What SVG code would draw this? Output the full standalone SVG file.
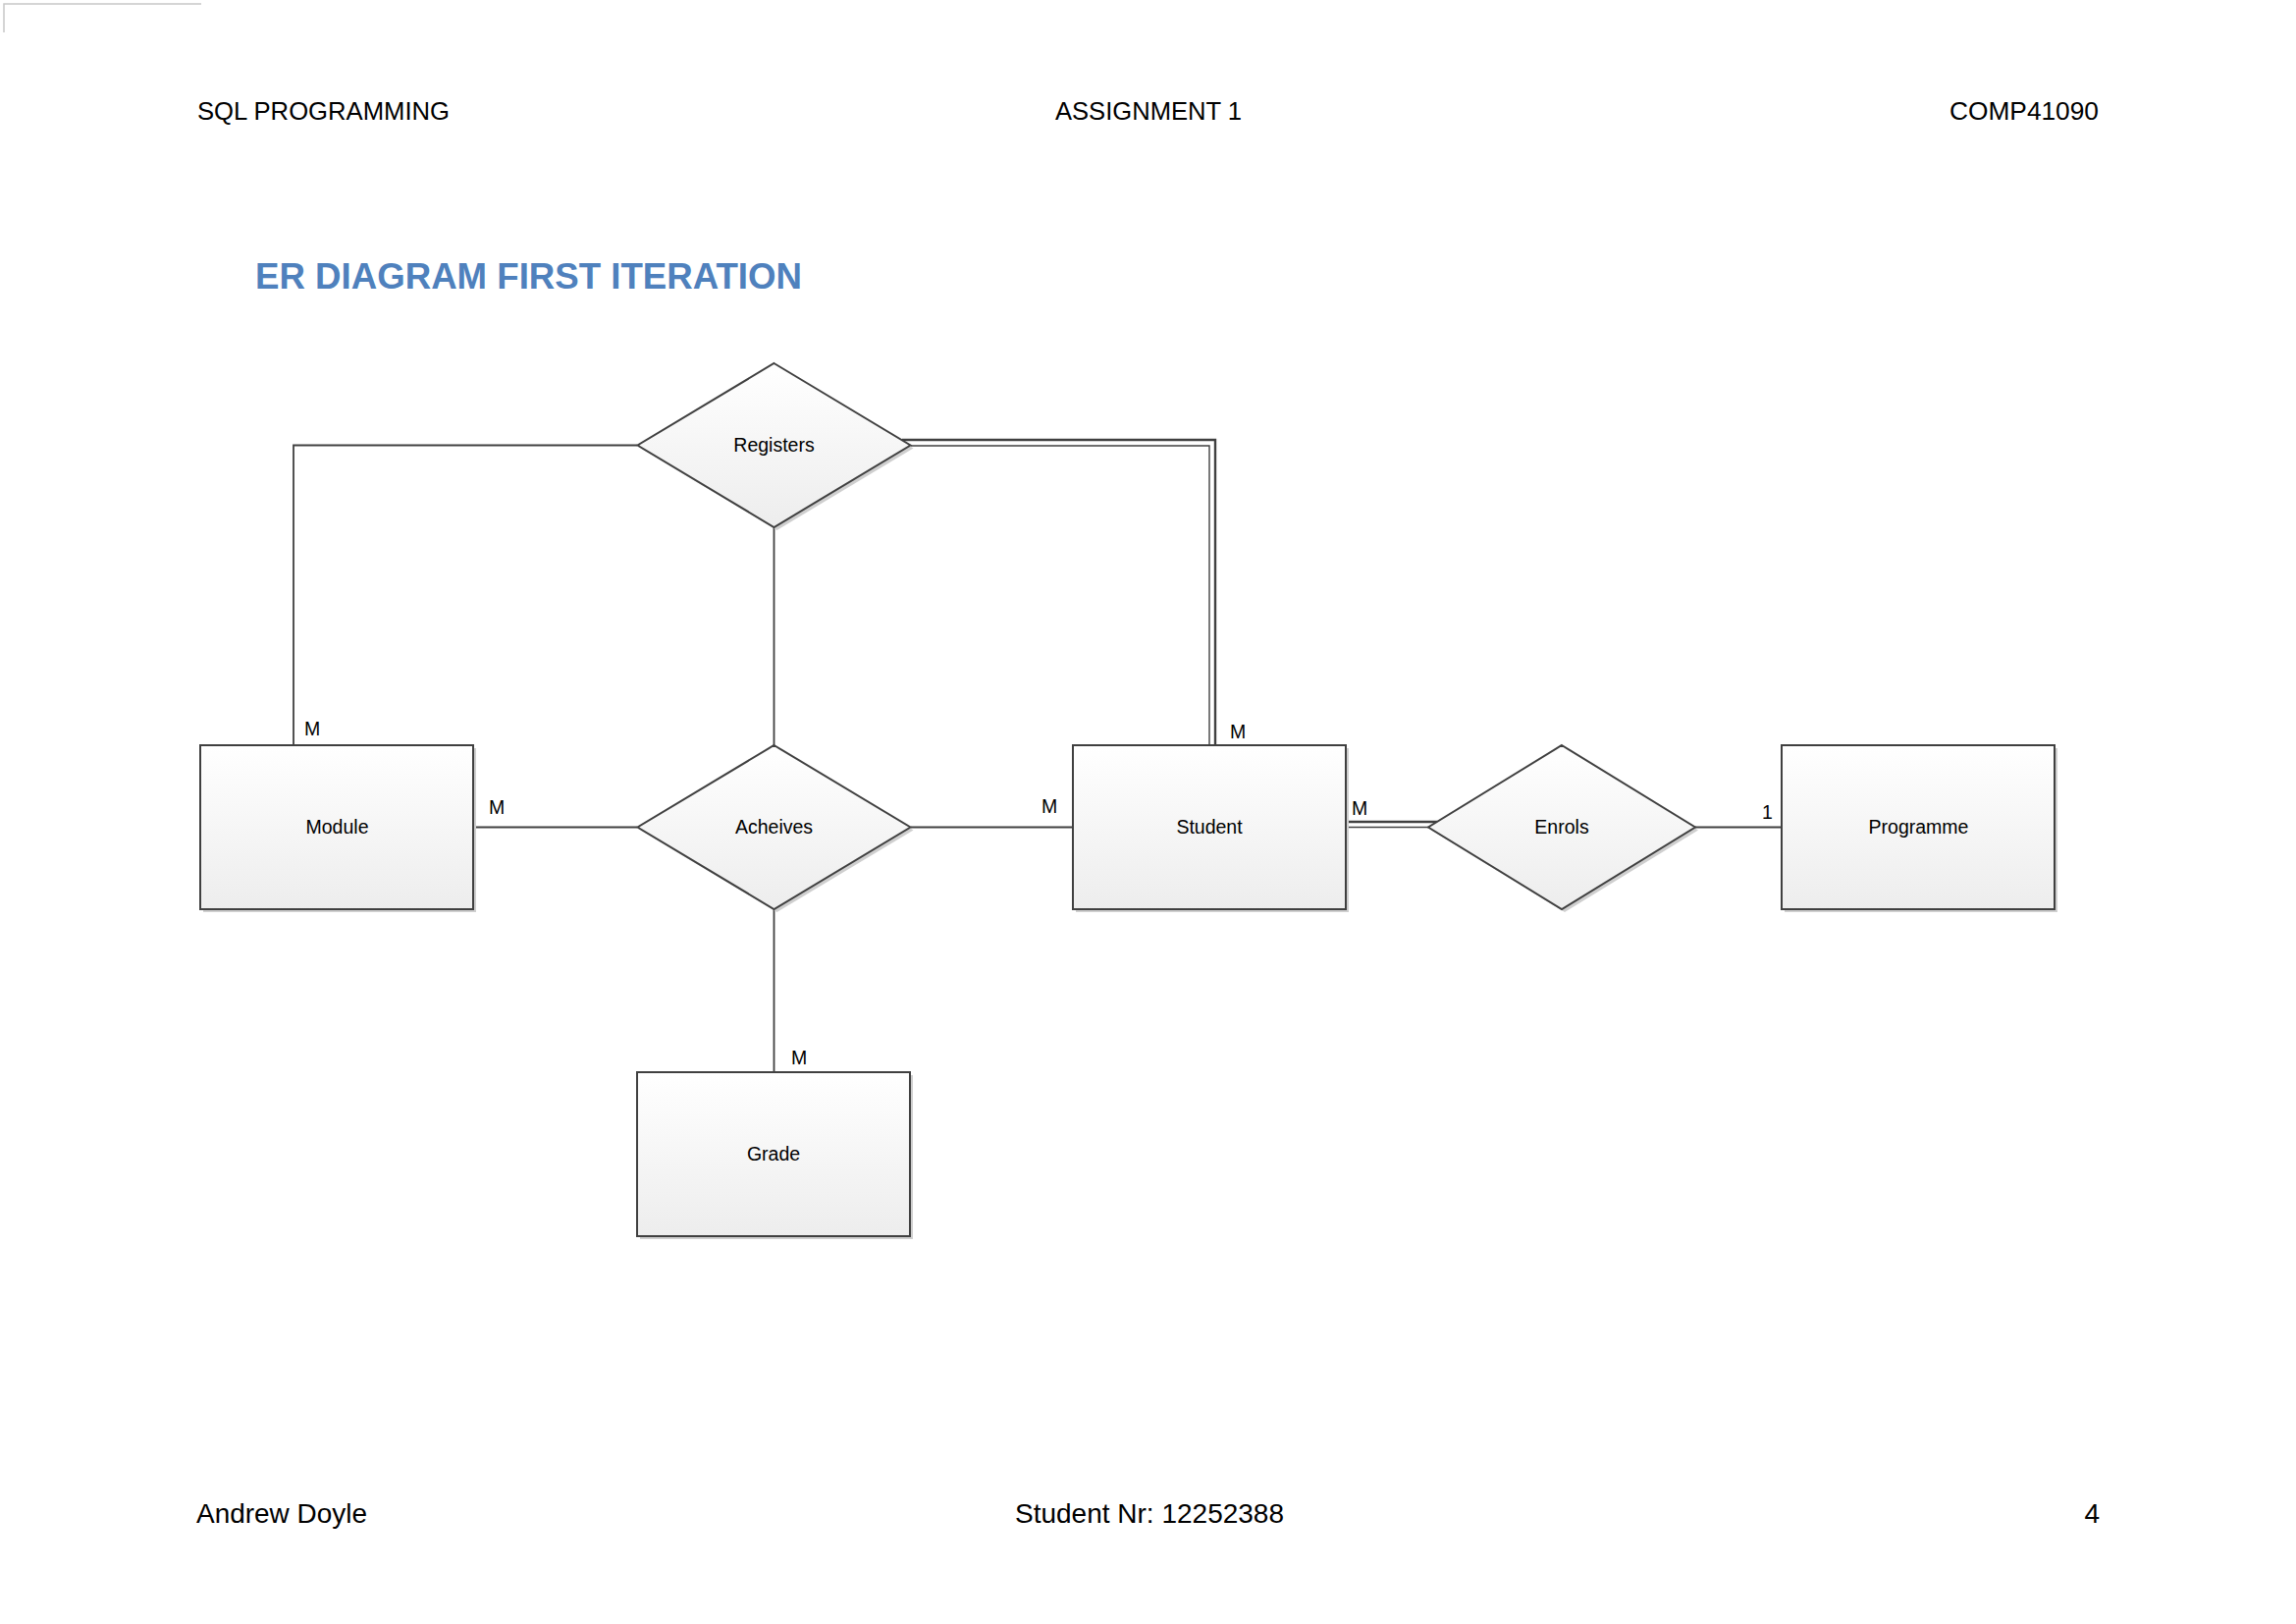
<svg xmlns="http://www.w3.org/2000/svg" width="2339" height="1654" viewBox="0 0 2339 1654">
  <defs>
    <linearGradient id="shapeFill" x1="0" y1="0" x2="0" y2="1">
      <stop offset="0" stop-color="#FFFFFF"/>
      <stop offset="1" stop-color="#EDEDED"/>
    </linearGradient>
  </defs>
  <style>
    .hdr { font-family: "Liberation Sans", Arial, sans-serif; font-size: 25.5px; fill: #000000; }
    .ftr { font-family: "Liberation Sans", Arial, sans-serif; font-size: 28px; fill: #000000; }
    .title { font-family: "Liberation Sans", Arial, sans-serif; font-size: 37px; font-weight: bold; fill: #4F81BD; }
    .lbl { font-family: "Liberation Sans", Arial, sans-serif; font-size: 19.5px; fill: #000000; text-anchor: middle; }
    .card { font-family: "Liberation Sans", Arial, sans-serif; font-size: 19.5px; fill: #000000; }
    .shape { fill: url(#shapeFill); stroke: #404040; stroke-width: 2; }
    .shadow { fill: #CFCFCF; stroke: none; }
    .conn { fill: none; stroke: #404040; stroke-width: 1.8; }
    .connThick { fill: none; stroke: #404040; stroke-width: 2.4; }
    .connThin { fill: none; stroke: #404040; stroke-width: 1.4; }
  </style>
  <rect x="0" y="0" width="2339" height="1654" fill="#FFFFFF"/>
  <!-- page corner mark -->
  <path d="M4,33 V4 H205" fill="none" stroke="#C8C8C8" stroke-width="1.5"/>

  <!-- header -->
  <text class="hdr" x="201" y="122" textLength="257" lengthAdjust="spacingAndGlyphs">SQL PROGRAMMING</text>
  <text class="hdr" x="1075" y="122" textLength="190" lengthAdjust="spacingAndGlyphs">ASSIGNMENT 1</text>
  <text class="hdr" x="1986" y="122" textLength="152" lengthAdjust="spacingAndGlyphs">COMP41090</text>

  <!-- title -->
  <text class="title" x="260" y="294" textLength="557" lengthAdjust="spacingAndGlyphs">ER DIAGRAM FIRST ITERATION</text>

  <!-- connectors -->
  <g id="connectors">
    <polyline class="conn" points="649,453.5 299,453.5 299,759"/>
    <line class="conn" x1="788.5" y1="537" x2="788.5" y2="759"/>
    <polyline class="connThick" points="919,448 1238,448 1238,759"/>
    <polyline class="connThin" points="928,454 1232,454 1232,759"/>
    <line class="conn" x1="482" y1="842.5" x2="649" y2="842.5"/>
    <line class="conn" x1="928" y1="842.5" x2="1093" y2="842.5"/>
    <line class="conn" x1="788.5" y1="926" x2="788.5" y2="1092"/>
    <line class="connThick" x1="1371" y1="837" x2="1464" y2="837"/>
    <line class="connThin" x1="1371" y1="842.5" x2="1455" y2="842.5"/>
    <line class="conn" x1="1727" y1="842.5" x2="1815" y2="842.5"/>
  </g>

  <!-- cardinality labels -->
  <g id="cardinalities">
    <text class="card" x="310" y="749">M</text>
    <text class="card" x="498" y="829">M</text>
    <text class="card" x="1061" y="828">M</text>
    <text class="card" x="1253" y="752">M</text>
    <text class="card" x="1377" y="830">M</text>
    <text class="card" x="1795" y="834">1</text>
    <text class="card" x="806" y="1084">M</text>
  </g>

  <!-- nodes -->
  <g id="registers">
    <polygon class="shadow" points="791.5,373 930.5,456.5 791.5,540 652.5,456.5"/>
    <polygon class="shape" points="788.5,370 927.5,453.5 788.5,537 649.5,453.5"/>
    <text class="lbl" x="788.5" y="460">Registers</text>
  </g>

  <g id="module">
    <rect class="shadow" x="207" y="762" width="278" height="167"/>
    <rect class="shape" x="204" y="759" width="278" height="167"/>
    <text class="lbl" x="343.5" y="849">Module</text>
  </g>

  <g id="acheives">
    <polygon class="shadow" points="791.5,762 930.5,845.5 791.5,929 652.5,845.5"/>
    <polygon class="shape" points="788.5,759 927.5,842.5 788.5,926 649.5,842.5"/>
    <text class="lbl" x="788.5" y="849">Acheives</text>
  </g>

  <g id="student">
    <rect class="shadow" x="1096" y="762" width="278" height="167"/>
    <rect class="shape" x="1093" y="759" width="278" height="167"/>
    <text class="lbl" x="1232" y="849">Student</text>
  </g>

  <g id="enrols">
    <polygon class="shadow" points="1594,762 1730,845.5 1594,929 1458,845.5"/>
    <polygon class="shape" points="1591,759 1727,842.5 1591,926 1455,842.5"/>
    <text class="lbl" x="1591" y="849">Enrols</text>
  </g>

  <g id="programme">
    <rect class="shadow" x="1818" y="762" width="278" height="167"/>
    <rect class="shape" x="1815" y="759" width="278" height="167"/>
    <text class="lbl" x="1954.5" y="849">Programme</text>
  </g>

  <g id="grade">
    <rect class="shadow" x="652" y="1095" width="278" height="167"/>
    <rect class="shape" x="649" y="1092" width="278" height="167"/>
    <text class="lbl" x="788" y="1182">Grade</text>
  </g>

  <!-- footer -->
  <text class="ftr" x="200" y="1551" textLength="174" lengthAdjust="spacingAndGlyphs">Andrew Doyle</text>
  <text class="ftr" x="1034" y="1551" textLength="274" lengthAdjust="spacingAndGlyphs">Student Nr: 12252388</text>
  <text class="ftr" x="2139" y="1551" text-anchor="end">4</text>
</svg>
